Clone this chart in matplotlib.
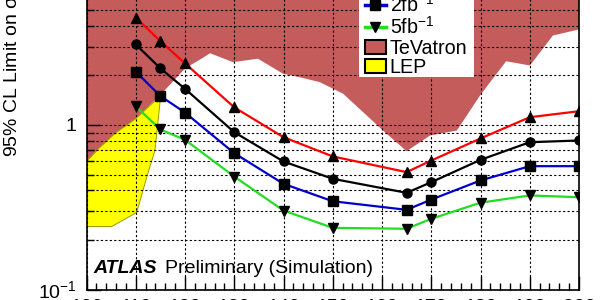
import matplotlib
matplotlib.use("Agg")
import matplotlib.pyplot as plt
from matplotlib.lines import Line2D
from matplotlib.patches import Patch, Rectangle
from matplotlib.ticker import FixedLocator, MultipleLocator, FuncFormatter, NullFormatter

plt.rcParams['font.family'] = ['Liberation Sans', 'DejaVu Sans']
plt.rcParams['mathtext.default'] = 'regular'

# Higgs mass points (GeV)
mass = [110, 115, 120, 130, 140, 150, 165, 170, 180, 190, 200]

# expected 95% CL limits for each luminosity
lim_1fb = [4.50, 3.23, 2.37, 1.28, 0.843, 0.644, 0.517, 0.608, 0.828, 1.115, 1.213]
lim_2fb = [3.09, 2.21, 1.66, 0.904, 0.600, 0.471, 0.387, 0.449, 0.614, 0.786, 0.805]
lim_5fb = [2.11, 1.50, 1.19, 0.674, 0.439, 0.344, 0.305, 0.352, 0.460, 0.562, 0.562]
lim_10fb = [1.30, 0.939, 0.813, 0.486, 0.302, 0.237, 0.234, 0.269, 0.337, 0.373, 0.364]

# excluded regions (lower edge of TeVatron, outline of LEP)
tev_x = [100, 102.7, 105.8, 110.05, 114.9, 120.0, 123.05, 125.1, 129.75, 134.8,
         139.9, 143.35, 147.4, 152.1, 160.2, 165.0, 169.75, 175.2, 179.9, 185.2,
         190.05, 194.7, 200]
tev_y = [0.600, 0.730, 0.888, 1.095, 1.511, 2.206, 2.50, 2.73, 2.41, 2.53,
         2.05, 1.95, 1.82, 1.55, 0.926, 0.693, 0.863, 0.926, 1.511, 2.44,
         2.30, 3.50, 3.81]
lep_x = [100, 102.7, 105.8, 110.05, 115.07, 113.9, 112.5, 110.2, 105.1, 100]
lep_y = [0.600, 0.730, 0.888, 1.095, 1.511, 0.700, 0.514, 0.294, 0.2415, 0.2415]

ymax = 10.0

fig = plt.figure(figsize=(6, 3), dpi=100)
ax = fig.add_axes([86.5 / 600, 1 - 289.5 / 300, 492.5 / 600, 329 / 300])

tev_col = '#c45c5c'
ax.fill(tev_x + [200, 100], tev_y + [ymax, ymax], color=tev_col, lw=0, zorder=1)
ax.fill(lep_x, lep_y, facecolor='#ffff00', edgecolor='#a09a00', lw=0.7, zorder=1.2)

series = [
    ('1fb$^{-1}$', lim_1fb, '#ff0000', '^'),
    ('2fb$^{-1}$', lim_2fb, 'black', 'o'),
    ('5fb$^{-1}$', lim_5fb, '#0000cc', 's'),
    ('10fb$^{-1}$', lim_10fb, '#22dd22', 'v'),
]
for name, vals, col, mk in series:
    ax.plot(mass, vals, color=col, lw=1.6, marker=mk, mfc='black', mec='black',
            ms=6.5, zorder=3)

ax.set_yscale('log')
ax.set_xlim(100, 200)
ax.set_ylim(0.1, ymax)

ax.xaxis.set_major_locator(MultipleLocator(10))
ax.xaxis.set_minor_locator(MultipleLocator(2))
ax.yaxis.set_major_locator(FixedLocator([0.1, 1, 10]))
ax.yaxis.set_minor_locator(FixedLocator([0.2, 0.3, 0.4, 0.5, 0.6, 0.7, 0.8, 0.9,
                                         2, 3, 4, 5, 6, 7, 8, 9]))
ax.yaxis.set_major_formatter(FuncFormatter(lambda v, p: '1' if v == 1 else
                                           ('10$^{-1}$' if v < 1 else '10')))
ax.yaxis.set_minor_formatter(NullFormatter())

ax.tick_params(which='both', direction='in', labelsize=14, width=1)
ax.tick_params(axis='x', which='major', length=10, pad=6.5)
ax.tick_params(axis='x', which='minor', length=5)
ax.tick_params(axis='y', which='major', length=10, pad=7)
ax.tick_params(axis='y', which='minor', length=5)

ax.set_axisbelow(False)
ax.grid(True, axis='x', which='major', color='black', lw=0.8, ls=(0, (2, 2)))
ax.grid(True, axis='y', which='both', color='black', lw=0.8, ls=(0, (2, 2)))
for sp in ax.spines.values():
    sp.set_linewidth(1.2)

fig.text(12 / 600, 1 - 157 / 300, '95% CL Limit on σ/σ$_{SM}$', rotation=90,
         ha='center', va='bottom', fontsize=14)
fig.text(93 / 600, 1 - 273 / 300, 'ATLAS', fontsize=14, fontweight='bold',
         fontstyle='italic', va='baseline')
fig.text(165 / 600, 1 - 273 / 300, 'Preliminary (Simulation)', fontsize=14,
         va='baseline')

# white legend box, cut by the top edge like in the original
fig.patches.append(Rectangle((359 / 600, 1 - 77 / 300), 115 / 600, 0.3,
                             transform=fig.transFigure, facecolor='white',
                             edgecolor='none', zorder=4))

handles = [
    Line2D([], [], color='#ff0000', lw=1.6, marker='^', mfc='black', mec='black', ms=6.5),
    Line2D([], [], color='#0000cc', lw=2.5, marker='s', mfc='black', mec='black', ms=6.5),
    Line2D([], [], color='#22dd22', lw=2.5, marker='v', mfc='black', mec='black', ms=6.5),
    Patch(facecolor=tev_col, edgecolor='black', lw=1.5),
    Patch(facecolor='#ffff00', edgecolor='black', lw=1.5),
]
labels = ['1fb$^{-1}$', '2fb$^{-1}$', '5fb$^{-1}$', 'TeVatron', 'LEP']
leg = fig.legend(handles, labels, loc='lower left',
                 bbox_to_anchor=(365 / 600, 1 - 77 / 300), fontsize=14.2,
                 frameon=False, borderpad=0, labelspacing=0.02,
                 handlelength=1.05, handletextpad=0.2, borderaxespad=0)
leg.set_zorder(5)

fig.savefig('out.png', dpi=100)
